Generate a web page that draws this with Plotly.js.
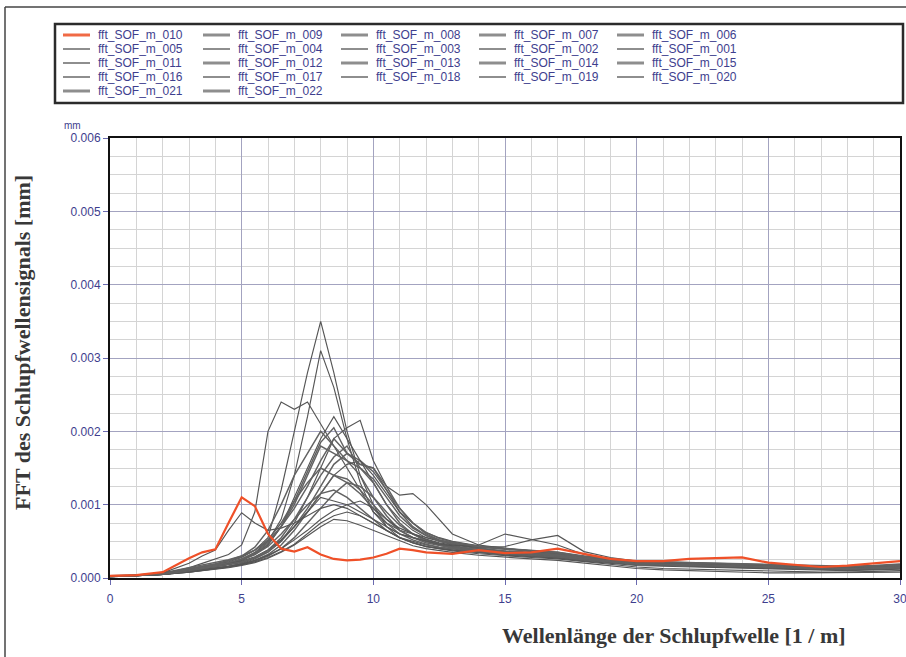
<!DOCTYPE html>
<html>
<head>
<meta charset="utf-8">
<script src="https://cdn.plot.ly/plotly-3.0.1.min.js"></script>
<style>html,body{margin:0;padding:0;background:#fff;}#chart{width:906px;height:657px;}</style>
</head>
<body>
<div id="chart"></div>
<script>
// Wavenumber axis [1/m]
const X = [0,1,2,3,3.5,4,4.5,5,5.5,6,6.5,7,7.5,8,8.5,9,9.5,10,10.5,11,11.5,12,12.5,13,14,15,16,17,18,19,20,21,22,23,24,25,26,27,28,29,30];

// FFT amplitudes [mm]
const s010 = [0.3e-4,0.4e-4,0.8e-4,2.7e-4,3.5e-4,3.9e-4,7.5e-4,11.0e-4,9.8e-4,6.0e-4,4.0e-4,3.6e-4,4.2e-4,3.2e-4,2.6e-4,2.4e-4,2.5e-4,2.8e-4,3.3e-4,4.0e-4,3.8e-4,3.5e-4,3.4e-4,3.3e-4,3.8e-4,3.4e-4,3.5e-4,4.0e-4,3.3e-4,2.6e-4,2.3e-4,2.3e-4,2.6e-4,2.7e-4,2.8e-4,2.1e-4,1.8e-4,1.5e-4,1.7e-4,2.0e-4,2.3e-4];
const s001 = [0.2e-4,0.3e-4,0.6e-4,1.2e-4,1.5e-4,1.8e-4,2.2e-4,2.8e-4,3.8e-4,5.5e-4,12e-4,20e-4,28e-4,35e-4,28e-4,20e-4,14e-4,10e-4,7e-4,6e-4,5.5e-4,5e-4,4.6e-4,4.3e-4,3.8e-4,3.4e-4,3.2e-4,3.0e-4,2.6e-4,2.2e-4,2.0e-4,1.9e-4,1.8e-4,1.8e-4,1.7e-4,1.6e-4,1.4e-4,1.3e-4,1.3e-4,1.4e-4,1.5e-4];
const s002 = [0.2e-4,0.3e-4,0.5e-4,1.0e-4,1.3e-4,1.6e-4,2.0e-4,2.6e-4,3.5e-4,5e-4,8e-4,14e-4,22e-4,31e-4,26e-4,19e-4,13e-4,9e-4,7e-4,5.5e-4,5e-4,4.5e-4,4.2e-4,4e-4,3.5e-4,3.2e-4,3e-4,2.8e-4,2.5e-4,2.2e-4,1.9e-4,1.8e-4,1.7e-4,1.6e-4,1.6e-4,1.5e-4,1.3e-4,1.2e-4,1.2e-4,1.3e-4,1.4e-4];
const s003 = [0.2e-4,0.3e-4,0.6e-4,1.4e-4,2e-4,2.6e-4,3.2e-4,4.5e-4,9e-4,20e-4,24e-4,23e-4,24e-4,21e-4,18e-4,15e-4,12e-4,9e-4,7.5e-4,6.5e-4,6e-4,5.5e-4,5e-4,4.6e-4,4e-4,3.5e-4,3.3e-4,3.1e-4,2.6e-4,2.3e-4,2.0e-4,1.9e-4,1.8e-4,1.8e-4,1.7e-4,1.6e-4,1.5e-4,1.4e-4,1.4e-4,1.5e-4,1.6e-4];
const s004 = [0.2e-4,0.3e-4,0.5e-4,1.0e-4,1.3e-4,1.5e-4,1.9e-4,2.4e-4,3.2e-4,4.5e-4,7e-4,11e-4,15e-4,19e-4,22e-4,19e-4,16e-4,13e-4,10e-4,8e-4,6.5e-4,5.5e-4,5e-4,4.6e-4,4e-4,3.6e-4,3.3e-4,3.1e-4,2.7e-4,2.3e-4,2.1e-4,2e-4,1.9e-4,1.9e-4,1.8e-4,1.6e-4,1.5e-4,1.4e-4,1.4e-4,1.5e-4,1.7e-4];
const s005 = [0.2e-4,0.3e-4,0.5e-4,0.9e-4,1.1e-4,1.3e-4,1.6e-4,2.0e-4,2.6e-4,3.5e-4,5e-4,7.5e-4,11e-4,15e-4,19e-4,20.5e-4,21.5e-4,16e-4,12.5e-4,11.3e-4,11.5e-4,10e-4,8e-4,6e-4,4.5e-4,4e-4,3.6e-4,3.3e-4,2.8e-4,2.4e-4,2.2e-4,2e-4,1.9e-4,1.9e-4,1.8e-4,1.7e-4,1.5e-4,1.4e-4,1.4e-4,1.5e-4,1.6e-4];
const s006 = [0.2e-4,0.3e-4,0.6e-4,1.2e-4,1.5e-4,1.9e-4,2.4e-4,3e-4,4.2e-4,6.5e-4,10e-4,14e-4,17e-4,20e-4,18e-4,16e-4,14e-4,11e-4,8.5e-4,6.5e-4,5.5e-4,5e-4,4.6e-4,4.3e-4,3.8e-4,3.5e-4,3.4e-4,3.2e-4,2.7e-4,2.3e-4,2e-4,1.9e-4,1.8e-4,1.8e-4,1.7e-4,1.5e-4,1.4e-4,1.3e-4,1.3e-4,1.4e-4,1.5e-4];
const s007 = [0.3e-4,0.4e-4,0.7e-4,1.4e-4,1.8e-4,2.1e-4,2.5e-4,3e-4,3.8e-4,5e-4,7e-4,9.5e-4,12.5e-4,16e-4,19e-4,17e-4,15.5e-4,15e-4,12e-4,9e-4,7e-4,5.8e-4,5e-4,4.6e-4,4.2e-4,4e-4,3.8e-4,3.5e-4,2.9e-4,2.5e-4,2.2e-4,2.1e-4,2e-4,2e-4,1.9e-4,1.7e-4,1.6e-4,1.5e-4,1.5e-4,1.6e-4,1.8e-4];
const s008 = [0.2e-4,0.3e-4,0.5e-4,1.1e-4,1.4e-4,1.7e-4,2e-4,2.5e-4,3.3e-4,4.6e-4,7e-4,10e-4,14e-4,18e-4,17e-4,16e-4,15e-4,13e-4,10e-4,7.5e-4,6e-4,5e-4,4.5e-4,4.2e-4,3.7e-4,3.3e-4,3.1e-4,2.9e-4,2.5e-4,2.2e-4,1.9e-4,1.8e-4,1.7e-4,1.7e-4,1.6e-4,1.5e-4,1.3e-4,1.2e-4,1.2e-4,1.3e-4,1.4e-4];
const s009 = [0.2e-4,0.3e-4,0.5e-4,0.9e-4,1.2e-4,1.4e-4,1.7e-4,2.1e-4,2.7e-4,3.6e-4,5e-4,7e-4,9.5e-4,12.5e-4,15.5e-4,17e-4,16e-4,14.5e-4,12e-4,9.5e-4,7.5e-4,6e-4,5.2e-4,4.7e-4,4.1e-4,3.7e-4,3.5e-4,3.3e-4,2.8e-4,2.4e-4,2.1e-4,2e-4,1.9e-4,1.9e-4,1.8e-4,1.6e-4,1.5e-4,1.4e-4,1.4e-4,1.5e-4,1.6e-4];
const s011 = [0.2e-4,0.3e-4,0.5e-4,1e-4,1.3e-4,1.5e-4,1.8e-4,2.2e-4,2.8e-4,3.8e-4,5.2e-4,7e-4,9e-4,11.5e-4,14e-4,15.5e-4,16e-4,14e-4,11.5e-4,9e-4,7.5e-4,6.2e-4,5.5e-4,5e-4,4.4e-4,4e-4,3.7e-4,3.4e-4,2.9e-4,2.5e-4,2.2e-4,2.1e-4,2e-4,2e-4,1.9e-4,1.7e-4,1.6e-4,1.5e-4,1.5e-4,1.6e-4,1.7e-4];
const s012 = [0.2e-4,0.3e-4,0.6e-4,1.2e-4,1.6e-4,1.9e-4,2.3e-4,2.9e-4,3.8e-4,5.2e-4,7.5e-4,10.5e-4,13e-4,15e-4,14e-4,13e-4,11.5e-4,9.5e-4,7.5e-4,6e-4,5.2e-4,4.6e-4,4.2e-4,4e-4,3.6e-4,3.3e-4,3.1e-4,2.9e-4,2.5e-4,2.2e-4,1.9e-4,1.8e-4,1.7e-4,1.7e-4,1.6e-4,1.4e-4,1.3e-4,1.2e-4,1.2e-4,1.3e-4,1.4e-4];
const s013 = [0.2e-4,0.3e-4,0.5e-4,0.9e-4,1.1e-4,1.3e-4,1.6e-4,1.9e-4,2.4e-4,3.2e-4,4.5e-4,6.5e-4,9e-4,11.5e-4,14e-4,13.5e-4,12e-4,10e-4,8e-4,6.5e-4,5.5e-4,4.8e-4,4.4e-4,4.1e-4,3.7e-4,3.4e-4,3.2e-4,3e-4,2.6e-4,2.2e-4,1.9e-4,1.8e-4,1.7e-4,1.7e-4,1.6e-4,1.4e-4,1.3e-4,1.2e-4,1.2e-4,1.3e-4,1.4e-4];
const s014 = [0.2e-4,0.3e-4,0.5e-4,0.8e-4,1e-4,1.2e-4,1.5e-4,1.8e-4,2.3e-4,3e-4,4e-4,5.5e-4,7.5e-4,9.5e-4,11.5e-4,13e-4,12.5e-4,11e-4,9e-4,7.2e-4,6e-4,5.2e-4,4.7e-4,4.4e-4,3.9e-4,3.6e-4,3.4e-4,3.1e-4,2.7e-4,2.3e-4,2e-4,1.9e-4,1.8e-4,1.8e-4,1.7e-4,1.5e-4,1.4e-4,1.3e-4,1.3e-4,1.4e-4,1.5e-4];
const s015 = [0.2e-4,0.3e-4,0.6e-4,1.1e-4,1.4e-4,1.7e-4,2e-4,2.5e-4,3.2e-4,4.3e-4,6e-4,8e-4,10e-4,11.5e-4,12e-4,11e-4,9.5e-4,8e-4,6.5e-4,5.5e-4,4.8e-4,4.3e-4,4e-4,3.8e-4,3.5e-4,3.2e-4,3e-4,2.8e-4,2.4e-4,2.1e-4,1.8e-4,1.7e-4,1.6e-4,1.6e-4,1.5e-4,1.3e-4,1.2e-4,1.1e-4,1.1e-4,1.2e-4,1.3e-4];
const s016 = [0.2e-4,0.3e-4,0.5e-4,1e-4,1.3e-4,1.6e-4,1.9e-4,2.3e-4,2.9e-4,3.8e-4,5.2e-4,7e-4,9e-4,11e-4,10.5e-4,10e-4,9e-4,8e-4,7e-4,6e-4,5.5e-4,5e-4,4.6e-4,4.4e-4,4.5e-4,6e-4,5.2e-4,4.5e-4,3.2e-4,2.6e-4,2.2e-4,2.1e-4,2e-4,2e-4,1.9e-4,1.7e-4,1.6e-4,1.5e-4,1.5e-4,1.6e-4,1.8e-4];
const s017 = [0.2e-4,0.3e-4,0.5e-4,0.9e-4,1.1e-4,1.3e-4,1.6e-4,1.9e-4,2.4e-4,3.1e-4,4e-4,5.2e-4,6.5e-4,8e-4,9.2e-4,10e-4,10.5e-4,9.5e-4,8e-4,6.8e-4,6e-4,5.3e-4,4.8e-4,4.5e-4,4.2e-4,4.3e-4,5.2e-4,5.8e-4,3.6e-4,2.8e-4,2.3e-4,2.2e-4,2.1e-4,2e-4,1.9e-4,1.7e-4,1.6e-4,1.5e-4,1.5e-4,1.6e-4,1.8e-4];
const s018 = [0.3e-4,0.4e-4,0.7e-4,2e-4,3e-4,3.8e-4,6.5e-4,8.9e-4,7.5e-4,6.5e-4,6.8e-4,7.5e-4,8.5e-4,9.5e-4,10e-4,9.5e-4,8.5e-4,7.5e-4,6.5e-4,5.5e-4,4.8e-4,4.3e-4,4e-4,3.8e-4,3.4e-4,3.1e-4,2.9e-4,2.7e-4,2.3e-4,2e-4,1.7e-4,1.6e-4,1.5e-4,1.5e-4,1.4e-4,1.2e-4,1.1e-4,1e-4,1e-4,1.1e-4,1.2e-4];
const s019 = [0.2e-4,0.3e-4,0.5e-4,0.8e-4,1e-4,1.2e-4,1.5e-4,1.8e-4,2.2e-4,2.8e-4,3.6e-4,4.6e-4,6e-4,7.5e-4,8.5e-4,9e-4,8.5e-4,7.5e-4,6.5e-4,5.5e-4,4.8e-4,4.3e-4,4e-4,3.7e-4,3.3e-4,3e-4,2.8e-4,2.6e-4,2.2e-4,1.8e-4,1.5e-4,1.3e-4,1.2e-4,1.1e-4,1e-4,0.9e-4,0.8e-4,0.8e-4,0.8e-4,0.9e-4,1e-4];
const s020 = [0.2e-4,0.3e-4,0.5e-4,0.8e-4,1e-4,1.2e-4,1.4e-4,1.7e-4,2.1e-4,2.7e-4,3.5e-4,4.5e-4,5.8e-4,7e-4,8e-4,7.8e-4,7.2e-4,6.5e-4,5.7e-4,5e-4,4.4e-4,4e-4,3.7e-4,3.5e-4,3.1e-4,2.8e-4,2.6e-4,2.4e-4,2e-4,1.6e-4,1.3e-4,1.1e-4,1e-4,0.9e-4,0.8e-4,0.7e-4,0.7e-4,0.7e-4,0.7e-4,0.7e-4,0.8e-4];
const s021 = [0.2e-4,0.3e-4,0.5e-4,1e-4,1.3e-4,1.5e-4,1.8e-4,2.2e-4,2.8e-4,3.8e-4,5.5e-4,8e-4,11e-4,14e-4,16.5e-4,18e-4,15e-4,13.5e-4,11e-4,8.5e-4,6.8e-4,5.8e-4,5.2e-4,4.8e-4,4.3e-4,3.9e-4,3.7e-4,3.4e-4,2.9e-4,2.5e-4,2.2e-4,2.1e-4,2e-4,2e-4,1.9e-4,1.7e-4,1.6e-4,1.5e-4,1.5e-4,1.6e-4,1.7e-4];
const s022 = [0.2e-4,0.3e-4,0.6e-4,1.1e-4,1.4e-4,1.7e-4,2.1e-4,2.6e-4,3.4e-4,4.8e-4,7e-4,10.5e-4,14.5e-4,18.5e-4,20.5e-4,17e-4,15.5e-4,15e-4,12.5e-4,9.5e-4,7.5e-4,6.2e-4,5.4e-4,4.9e-4,4.3e-4,4e-4,3.8e-4,3.5e-4,3e-4,2.6e-4,2.3e-4,2.2e-4,2.1e-4,2.1e-4,2e-4,1.8e-4,1.7e-4,1.6e-4,1.6e-4,1.7e-4,1.9e-4];

// Legend order (as shown in the reference legend, 5 per row)
const legendOrder = ['010','009','008','007','006','005','004','003','002','001','011','012','013','014','015','016','017','018','019','020','021','022'];
const seriesById = {'001':s001,'002':s002,'003':s003,'004':s004,'005':s005,'006':s006,'007':s007,'008':s008,'009':s009,'010':s010,'011':s011,'012':s012,'013':s013,'014':s014,'015':s015,'016':s016,'017':s017,'018':s018,'019':s019,'020':s020,'021':s021,'022':s022};
const drawOrder = ['001','002','003','004','005','006','007','008','009','011','012','013','014','015','016','017','018','019','020','021','022','010'];
const thickIds = ['009','008','007','006','012','013','014','015','021','022'];

function styleOf(id){
  if(id === '010') return {plot:{color:'#ef5028', width:2.2}, key:{color:'#f06a45', width:3}};
  if(thickIds.indexOf(id) >= 0) return {plot:{color:'#626262', width:1.45}, key:{color:'#8e8e8e', width:3}};
  return {plot:{color:'#555555', width:1.15}, key:{color:'#5e5e5e', width:1.4}};
}

const data = drawOrder.map(function(id){
  return {
    type:'scatter', mode:'lines',
    x: X, y: seriesById[id],
    name: 'fft_SOF_m_' + id,
    line: styleOf(id).plot,
    showlegend: false,
    hoverinfo: 'skip'
  };
});

const navy = '#3e3e8e';
const tickFont = {family:'Arial, "Liberation Sans", sans-serif', size:12, color:navy};
const titleFont = {family:'"Liberation Serif", "DejaVu Serif", serif', size:22, color:'#383838', weight:'bold'};

function px2x(px){ return (px - 110) / 790; }
function py2y(py){ return (578 - py) / 440; }

// Legend box, drawn as shapes + annotations (5 columns x 5 rows)
const colLine = [63, 203, 341, 479, 617];
const rowY = [35, 49, 63, 77, 91];
const shapes = [
  {type:'rect', xref:'paper', yref:'paper', x0:px2x(55), x1:px2x(903), y0:py2y(103), y1:py2y(24), line:{color:'#2b2b2b', width:2.5}},
  {type:'line', xref:'paper', yref:'paper', x0:px2x(5), x1:px2x(906), y0:py2y(7), y1:py2y(7), line:{color:'#444', width:1.5}},
  {type:'line', xref:'paper', yref:'paper', x0:px2x(5), x1:px2x(5), y0:py2y(7), y1:py2y(657), line:{color:'#444', width:1.5}}
];
const annotations = [
  {xref:'paper', yref:'paper', x:px2x(72), y:py2y(125), xanchor:'center', yanchor:'middle', text:'mm', showarrow:false, font:{family:'Arial, "Liberation Sans", sans-serif', size:10, color:navy}},
  {xref:'paper', yref:'paper', x:px2x(674), y:py2y(635), xanchor:'center', yanchor:'middle', text:'Wellenlänge der Schlupfwelle [1 / m]', showarrow:false, font:titleFont},
  {xref:'paper', yref:'paper', x:px2x(22), y:py2y(343), xanchor:'center', yanchor:'middle', text:'FFT des Schlupfwellensignals [mm]', textangle:-90, showarrow:false, font:titleFont}
];
legendOrder.forEach(function(id, i){
  const c = i % 5, r = Math.floor(i / 5);
  const x0 = colLine[c], y = rowY[r];
  shapes.push({type:'line', xref:'paper', yref:'paper', x0:px2x(x0), x1:px2x(x0 + 27), y0:py2y(y), y1:py2y(y), line:styleOf(id).key});
  annotations.push({xref:'paper', yref:'paper', x:px2x(x0 + 33), y:py2y(y), xanchor:'left', yanchor:'middle', text:'fft_SOF_m_' + id, showarrow:false,
    font:{family:'Arial, "Liberation Sans", sans-serif', size:12, color:navy}});
});

const layout = {
  width:906, height:657,
  margin:{l:110, r:6, t:138, b:79, autoexpand:false},
  paper_bgcolor:'#ffffff', plot_bgcolor:'#ffffff',
  showlegend:false,
  xaxis:{
    range:[0,30], tick0:0, dtick:5, ticks:'outside', ticklen:5, tickwidth:1, tickcolor:'#6a6ab0',
    tickfont:tickFont, ticklabelstandoff:4, ticklabeloverflow:'allow',
    showgrid:true, gridcolor:'#a3a3c0', gridwidth:1,
    minor:{dtick:1, showgrid:true, gridcolor:'#d4d4d4', gridwidth:1},
    showline:true, linecolor:'#111', linewidth:2, mirror:true, zeroline:false, fixedrange:true
  },
  yaxis:{
    range:[0,0.006], tick0:0, dtick:0.001, tickformat:'.3f', ticks:'outside', ticklen:5, tickwidth:1, tickcolor:'#6a6ab0',
    tickfont:tickFont, ticklabeloverflow:'allow',
    showgrid:true, gridcolor:'#a3a3c0', gridwidth:1,
    minor:{dtick:0.00025, showgrid:true, gridcolor:'#d4d4d4', gridwidth:1},
    showline:true, linecolor:'#111', linewidth:2, mirror:true, zeroline:false, fixedrange:true
  },
  shapes:shapes,
  annotations:annotations
};

Plotly.newPlot('chart', data, layout, {staticPlot:true, displayModeBar:false});
</script>
</body>
</html>
